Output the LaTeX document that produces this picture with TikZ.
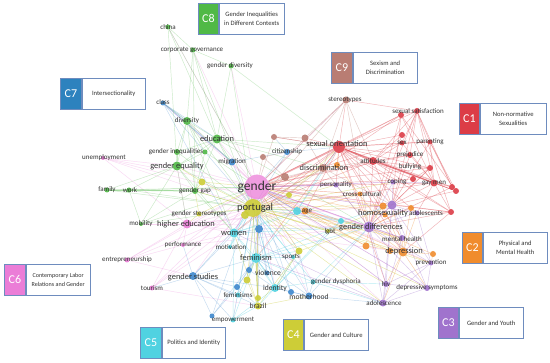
\documentclass[tikz,border=0pt]{standalone}
\usepackage{fontspec}
\setmainfont{Carlito}
\usetikzlibrary{backgrounds}
\definecolor{cRed}{RGB}{220,60,70}
\definecolor{cOrg}{RGB}{240,140,45}
\definecolor{cPur}{RGB}{160,115,205}
\definecolor{cYel}{RGB}{205,205,55}
\definecolor{cCyn}{RGB}{80,210,225}
\definecolor{cPnk}{RGB}{235,125,215}
\definecolor{cBlu}{RGB}{60,135,205}
\definecolor{cBluT}{RGB}{45,130,190}
\definecolor{cGrn}{RGB}{80,185,70}
\definecolor{cBrn}{RGB}{185,125,115}
\definecolor{legb}{RGB}{110,140,190}
\definecolor{labc}{RGB}{50,50,50}
\tikzset{
  dot/.style={circle,inner sep=0pt,draw=none,fill opacity=0.9},
  lab/.style={inner sep=0pt,text=labc,font=\fontsize{7}{7}\selectfont},
  labm/.style={lab,font=\fontsize{8.4}{9}\selectfont},
  ed/.style={line width=0.45pt,draw opacity=0.3},
  tagbox/.style={draw=legb,line width=0.8pt,anchor=north west,inner sep=0pt,minimum height=31pt,text=white,font=\fontsize{12}{12}\selectfont},
  ltx/.style={draw=legb,fill=white,line width=0.8pt,anchor=north west,inner sep=0pt,minimum height=31pt,align=center,font=\fontsize{6.6}{8.5}\selectfont,text=black!80}
}
\newcommand\kw[5]{\node[dot,fill=#5,minimum size=#4*2pt] (#1) at (#2,#3) {};}
\newcommand\legbox[7]{%
  \node[tagbox,fill=#5,minimum width=#3pt] (#1t) at (#2) {#6};
  \node[ltx,minimum width=#4pt] (#1x) at (#1t.north east) {#7};}
\begin{document}
\begin{tikzpicture}[x=1pt,y=-1pt]
\useasboundingbox (0,0) rectangle (550,363);
% ---------- keyword dots ----------
% green C8
\kw{china}{168}{27}{2.5}{cGrn}
\kw{corpgov}{193}{50}{2.5}{cGrn}
\kw{gdiv}{231}{66}{2.5}{cGrn}
\kw{divers}{187}{121}{4}{cGrn}
\kw{educ}{217}{139}{4.5}{cGrn}
\kw{gineq}{177}{152}{3}{cGrn}
\kw{gineqb}{205}{152}{2.5}{cGrn}
\kw{gequal}{177}{166}{4.5}{cGrn}
\kw{family}{107}{190}{2.5}{cGrn}
\kw{work}{129}{190}{2.5}{cGrn}
\kw{ggap}{195}{191}{3}{cGrn}
\kw{mobil}{141}{224}{2}{cGrn}
% blue C7
\kw{class}{163}{103}{2.5}{cBlu}
\kw{migr}{232}{162}{3.5}{cBlu}
\kw{citiz}{287}{152}{3}{cBlu}
\kw{bA}{259}{229}{4}{cBlu}
\kw{gstud}{193}{276}{4}{cBlu}
\kw{bB}{249}{270}{3}{cBlu}
\kw{bC}{237}{287}{3}{cBlu}
\kw{empB}{212}{316}{2.5}{cBlu}
\kw{bD}{291}{292}{3}{cBlu}
\kw{mother}{309}{296}{3.5}{cBlu}
\kw{viol}{267}{273}{2.5}{cBlu}
% cyan C5
\kw{women}{234}{233}{4.5}{cCyn}
\kw{motiv}{230}{247}{2}{cCyn}
\kw{femin}{256}{258}{5}{cCyn}
\kw{ident}{275}{288}{4}{cCyn}
\kw{feminis}{238}{295}{2.5}{cCyn}
\kw{empow}{233}{320}{2.5}{cCyn}
\kw{cA}{297}{211}{4}{cCyn}
\kw{cB}{341}{221}{3}{cCyn}
\kw{gdys}{313}{282}{2.5}{cCyn}
\kw{cS}{293}{257}{2}{cCyn}
% yellow C4
\kw{yB}{245}{215}{4}{cYel}
\kw{yA}{202}{182}{3.5}{cYel}
\kw{gster}{199}{214}{2.5}{cYel}
\kw{yC}{289}{195}{3}{cYel}
\kw{sports}{299}{251}{3.5}{cYel}
\kw{lgbt}{328}{231}{2}{cYel}
\kw{yD}{247}{280}{3.5}{cYel}
\kw{brazA}{258}{298}{3}{cYel}
\kw{brazil}{258}{306}{3.5}{cYel}
\kw{portugal}{253}{208}{9}{cYel}
% pink C6
\kw{unemp}{103}{158}{2}{cPnk}
\kw{highed}{187}{224}{4.5}{cPnk}
\kw{perf}{183}{245}{2}{cPnk}
\kw{entre}{127}{260}{2.5}{cPnk}
\kw{tour}{152}{288}{2.5}{cPnk}
% brown C9
\kw{stereo}{346}{100}{3.5}{cBrn}
\kw{brA}{274}{137}{3}{cBrn}
\kw{brB}{305}{138}{3.5}{cBrn}
\kw{brC}{263}{157}{3}{cBrn}
\kw{brD}{285}{177}{4}{cBrn}
\kw{discr}{323}{168}{4}{cBrn}
% red C1
\kw{sexor}{339}{147}{6}{cRed}
\kw{sexsat}{417}{111}{3}{cRed}
\kw{sexsatB}{401}{115}{3}{cRed}
\kw{sex}{402}{143}{2.5}{cRed}
\kw{sexB}{402}{135}{3}{cRed}
\kw{parent}{430}{142}{2.5}{cRed}
\kw{prej}{410}{155}{3}{cRed}
\kw{attit}{373}{161}{4}{cRed}
\kw{bully}{430}{168}{3}{cRed}
\kw{rA}{413}{179}{3}{cRed}
\kw{gaymen}{434}{183}{3.5}{cRed}
\kw{rB}{452}{187}{3}{cRed}
\kw{rC}{456}{191}{3}{cRed}
\kw{rD}{451}{212}{3}{cRed}
% orange C2
\kw{oDisc}{337}{165}{3}{cOrg}
\kw{age}{305}{211}{3.5}{cOrg}
\kw{cross}{360}{194}{2.5}{cOrg}
\kw{oHa}{383}{206}{3.5}{cOrg}
\kw{oHb}{385}{215}{2.5}{cOrg}
\kw{oAd}{411}{208}{3}{cOrg}
\kw{oA}{366}{246}{3.5}{cOrg}
\kw{oC}{390}{251}{3}{cOrg}
\kw{depr}{403}{252}{4.5}{cOrg}
\kw{oB}{433}{254}{3}{cOrg}
% purple C3
\kw{person}{336}{185}{2.5}{cPur}
\kw{coping}{393}{182}{2.5}{cPur}
\kw{homos}{392}{205}{4.5}{cPur}
\kw{adolts}{417}{213}{2.5}{cPur}
\kw{gdiff}{369}{227}{5.5}{cPur}
\kw{menth}{402}{238}{3}{cPur}
\kw{prev}{431}{263}{2.5}{cPur}
\kw{hiv}{386}{284}{3}{cPur}
\kw{depsym}{427}{288}{3}{cPur}
\kw{adolce}{383}{303}{3.5}{cPur}
% gender hub
\node[dot,fill=cPnk,fill opacity=0.75,minimum size=25pt] (gender) at (257,187) {};
% ---------- connectors ----------
\begin{scope}[on background layer]
\fill[white] (0,0) rectangle (550,363);
\draw[ed,cPnk,line width=2.2pt,draw opacity=0.45] (gender) -- (portugal);
\draw[ed,cRed,line width=1.6pt,draw opacity=0.4] (gender) -- (sexor);
\draw[ed,cRed,line width=1.4pt,draw opacity=0.4] (sexor) -- (attit);
\draw[ed,cRed,line width=1.2pt,draw opacity=0.35] (attit) -- (gaymen);
\draw[ed,cRed,line width=1pt,draw opacity=0.35] (sexor) -- (gaymen);
\draw[ed,cPnk,line width=1pt,draw opacity=0.4] (gender) -- (women);
\draw[ed,cPnk,line width=1pt,draw opacity=0.4] (gender) -- (gdiff);
\draw[ed,cYel,line width=1pt,draw opacity=0.4] (portugal) -- (age);
\draw[ed,cGrn,line width=1pt,draw opacity=0.4] (family) -- (ggap);
\draw[ed,cBlu,line width=1pt,draw opacity=0.4] (class) -- (migr);
\foreach \a/\b in {sexor/sexsat,sexor/sexsatB,sexor/sex,sexor/sexB,sexor/parent,sexor/prej,sexor/bully,sexor/rA,sexor/rB,sexor/rC,sexor/rD,sexor/adolts,sexor/homos,sexor/discr,sexor/stereo,sexor/portugal,sexor/gdiff,sexor/coping,sexor/brB,sexor/brA,sexor/age,sexor/person,sexor/menth,sexor/depr,sexor/hiv,sexor/women,sexor/femin,
attit/sexsat,attit/sex,attit/prej,attit/bully,attit/rB,attit/rC,attit/homos,attit/gender,attit/gdiff,attit/rD,attit/sexB,attit/portugal,
sexsat/stereo,sexsat/sex,sexsat/parent,sexsat/gaymen,sexsat/rB,sexsat/rD,sexsat/prej,sexsat/gdiff,sexsat/homos,sexsat/sexsatB,
sexsatB/gender,sexsatB/homos,sexsatB/discr,sexsatB/gdiff,sexsatB/rC,sexsatB/gaymen,
gaymen/gender,gaymen/prej,gaymen/rB,gaymen/rC,gaymen/homos,gaymen/adolts,gaymen/rD,gaymen/parent,gaymen/sex,gaymen/portugal,
parent/rC,parent/rB,parent/homos,parent/sex,bully/homos,bully/gdiff,bully/rA,bully/gender,
rD/homos,rD/gdiff,rD/adolts,rD/depr,rD/gender,prej/homos,prej/gender,sex/gender,sexB/gdiff,rA/gender,rB/gdiff,rC/homos}
  \draw[ed,cRed,draw opacity=0.4] (\a) -- (\b);
\foreach \a/\b in {gender/unemp,gender/highed,gender/perf,gender/entre,gender/tour,gender/femin,gender/gstud,gender/discr,gender/homos,gender/depr,gender/adolts,gender/menth,gender/hiv,gender/adolce,gender/prev,gender/depsym,gender/coping,gender/person,gender/age,gender/sports,gender/ident,gender/mother,gender/brazil,gender/gequal,gender/educ,gender/divers,gender/ggap,gender/migr,gender/class,gender/china,gender/gdiv,gender/corpgov,gender/stereo,gender/cross,gender/gdys,gender/lgbt,gender/empow,
highed/unemp,highed/entre,highed/tour,highed/perf,highed/portugal,highed/gdiff,highed/women,highed/age,highed/mobil,highed/homos,highed/gequal,highed/depr,
perf/entre,perf/portugal,perf/gdiff,perf/women,tour/portugal,tour/brazil,tour/women,entre/portugal,entre/gstud,unemp/portugal,unemp/gdiff,unemp/gequal}
  \draw[ed,cPnk] (\a) -- (\b);
\foreach \a/\b in {china/corpgov,china/educ,china/gequal,china/gender,corpgov/divers,corpgov/educ,corpgov/gdiv,corpgov/portugal,corpgov/ggap,gdiv/educ,gdiv/sexor,gdiv/portugal,
divers/educ,divers/gineq,divers/gequal,divers/migr,divers/portugal,divers/class,divers/ggap,divers/women,divers/gineqb,
educ/gineq,educ/gequal,educ/migr,educ/portugal,educ/ggap,educ/sexor,educ/citiz,educ/gdiff,educ/gineqb,educ/discr,
gequal/family,gequal/work,gequal/ggap,gequal/gineq,gequal/portugal,gequal/mobil,gequal/women,gequal/gineqb,gequal/highed,
family/work,family/gender,family/portugal,work/ggap,work/gender,work/mobil,work/portugal,
ggap/portugal,ggap/gineqb,ggap/mobil,ggap/women,mobil/gender,mobil/portugal,gineqb/gender,gineq/portugal}
  \draw[ed,cGrn] (\a) -- (\b);
\foreach \a/\b in {class/educ,class/portugal,class/women,class/divers,migr/portugal,migr/citiz,citiz/gender,citiz/sexor,citiz/brA,citiz/portugal,
gstud/women,gstud/femin,gstud/portugal,gstud/empB,gstud/bC,gstud/feminis,gstud/ident,gstud/brazil,gstud/perf,gstud/tour,gstud/empow,
bA/gender,bA/women,bA/femin,bA/bB,bA/ident,bA/brazil,bA/portugal,bA/gdiff,
bB/femin,bB/bC,bB/ident,bB/gender,bC/femin,bC/empB,bC/brazil,empB/femin,empB/gender,bD/ident,bD/mother,bD/gender,bD/portugal,
mother/portugal,mother/femin,mother/ident,mother/gdys,mother/gdiff,mother/sports,mother/adolce,viol/femin,viol/gender,viol/portugal}
  \draw[ed,cBlu] (\a) -- (\b);
\foreach \a/\b in {women/portugal,women/femin,women/motiv,women/ident,women/empow,women/gdiff,women/age,
femin/portugal,femin/ident,femin/viol,femin/empow,femin/feminis,femin/gdys,femin/sports,femin/lgbt,femin/gdiff,femin/brazil,
ident/portugal,ident/gdys,ident/lgbt,ident/brazil,ident/empow,ident/sports,
cA/gender,cA/portugal,cA/gdiff,cA/age,cA/sexor,cA/discr,cA/women,cA/femin,
cB/gdiff,cB/gender,cB/portugal,cB/lgbt,cB/ident,cB/homos,gdys/gdiff,gdys/hiv,gdys/portugal,gdys/adolce,empow/portugal,empow/brazil,motiv/gender,motiv/portugal,feminis/portugal,cS/portugal,cS/femin}
  \draw[ed,cCyn,draw opacity=0.4] (\a) -- (\b);
\foreach \a/\b in {portugal/brazil,portugal/sports,portugal/gdiff,portugal/homos,portugal/discr,portugal/depr,portugal/gster,portugal/ggap,portugal/yA,portugal/yC,portugal/lgbt,portugal/adolce,portugal/cross,portugal/person,portugal/hiv,portugal/menth,portugal/depsym,portugal/coping,portugal/prev,
brazil/gender,brazil/femin,brazil/sports,brazil/mother,brazil/women,brazil/yD,brazA/femin,brazA/gender,sports/gender,sports/gdiff,sports/ident,yA/gender,yA/ggap,yA/gequal,gster/gender,gster/highed,gster/ggap,yC/gender,yC/sexor,yD/gender,yD/femin,lgbt/gdiff,lgbt/homos,yB/gender}
  \draw[ed,cYel,draw opacity=0.45] (\a) -- (\b);
\foreach \a/\b in {stereo/attit,stereo/brB,stereo/discr,stereo/gender,stereo/gdiff,stereo/portugal,
brA/gender,brA/sexor,brA/brB,brB/gender,brB/discr,brC/gender,brC/brD,brC/citiz,brD/gender,brD/discr,brD/portugal,
discr/portugal,discr/homos,discr/gdiff,discr/attit,discr/women}
  \draw[ed,cBrn,draw opacity=0.4] (\a) -- (\b);
\foreach \a/\b in {age/depr,age/gdiff,age/homos,age/oA,age/menth,age/cross,oDisc/sexor,oDisc/gender,oDisc/depr,depr/gdiff,depr/menth,depr/homos,depr/oA,depr/oB,depr/prev,depr/adolce,depr/hiv,depr/depsym,depr/oHa,depr/oAd,depr/adolts,
cross/gdiff,cross/gender,oHa/homos,oHa/gdiff,oHa/gender,oHb/gender,oAd/adolts,oAd/gdiff,oB/gdiff,oB/prev,oA/gdiff,oA/gender,oC/gender}
  \draw[ed,cOrg,draw opacity=0.4] (\a) -- (\b);
\foreach \a/\b in {gdiff/homos,gdiff/adolce,gdiff/hiv,gdiff/depsym,gdiff/prev,gdiff/menth,gdiff/person,gdiff/coping,gdiff/adolts,
homos/adolts,homos/coping,homos/adolce,homos/hiv,homos/depsym,homos/menth,homos/prev,
adolce/hiv,adolce/depsym,adolce/prev,adolce/menth,adolce/women,adolce/femin,hiv/depsym,hiv/prev,hiv/gender,depsym/prev,depsym/gender,prev/adolts,person/gender,coping/gender,coping/gaymen,menth/gender,adolts/gender}
  \draw[ed,cPur,draw opacity=0.4] (\a) -- (\b);
\end{scope}
% ---------- labels ----------
\node[lab] (Lchina) at (168,27) {china};
\node[lab] (Lcorpgov) at (192,50) {corporate governance};
\node[lab] (Lgdiv) at (230,66) {gender diversity};
\node[lab] (Lclass) at (163,102) {class};
\node[lab] (Ldivers) at (187,121) {diversity};
\node[labm] (Leduc) at (217,139) {education};
\node[lab] (Lgineq) at (176,152) {gender inequalities};
\node[lab] (Lunemp) at (104,158) {unemployment};
\node[lab] (Lmigr) at (232,162) {migration};
\node[lab] (Lcitiz) at (287,152) {citizenship};
\node[labm] (Lgequal) at (177,166) {gender equality};
\node[lab] (Lfamily) at (107,190) {family};
\node[lab] (Lwork) at (130,190) {work};
\node[lab] (Lggap) at (195,191) {gender gap};
\node[lab] (Lgster) at (199,214) {gender stereotypes};
\node[lab] (Lmobil) at (141,224) {mobility};
\node[labm] (Lhighed) at (186,224) {higher education};
\node[labm] (Lwomen) at (234,233) {women};
\node[lab] (Lperf) at (183,245) {performance};
\node[lab] (Lmotiv) at (231,247) {motivation};
\node[lab] (Lentre) at (127,260) {entrepreneurship};
\node[labm] (Lfemin) at (256,258) {feminism};
\node[lab,font=\fontsize{7.6}{8}\selectfont] (Lviol) at (268,273) {violence};
\node[labm] (Lgstud) at (193,277) {gender studies};
\node[lab] (Ltour) at (152,288) {tourism};
\node[lab,font=\fontsize{7.6}{8}\selectfont] (Lident) at (275,288) {identity};
\node[lab] (Lfeminis) at (238,295) {feminisms};
\node[lab,font=\fontsize{7.6}{8}\selectfont] (Lbrazil) at (258,306) {brazil};
\node[lab] (Lempow) at (233,320) {empowerment};
\node[lab] (Lsports) at (291,257) {sports};
\node[lab] (Llgbt) at (330,232) {lgbt};
\node[lab] (Lgdys) at (336,282) {gender dysphoria};
\node[lab,font=\fontsize{7.6}{8}\selectfont] (Lmother) at (309,297) {motherhood};
\node[lab] (Lhiv) at (386,284) {hiv};
\node[lab] (Ldepsym) at (427,288) {depressive symptoms};
\node[lab] (Ladolce) at (384,303) {adolescence};
\node[lab] (Lprev) at (431,263) {prevention};
\node[lab] (Lmenth) at (402,239) {mental health};
\node[labm] (Ldepr) at (404,251) {depression};
\node[labm] (Lgdiff) at (371,227) {gender differences};
\node[labm] (Lhomos) at (383,213) {homosexuality};
\node[lab] (Ladolts) at (426,213) {adolescents};
\node[lab] (Lcross) at (362,194) {cross-cultural};
\node[lab] (Lperson) at (336,185) {personality};
\node[lab] (Lage) at (307,211) {age};
\node[lab] (Lcoping) at (397,182) {coping};
\node[lab] (Lgaymen) at (434,183) {gay men};
\node[lab] (Lbully) at (410,167) {bullying};
\node[labm] (Ldiscr) at (324,168) {discrimination};
\node[lab] (Lattit) at (373,161) {attitudes};
\node[lab] (Lprej) at (410,155) {prejudice};
\node[labm] (Lsexor) at (337,144) {sexual orientation};
\node[lab] (Lsex) at (402,143) {sex};
\node[lab] (Lparent) at (430,142) {parenting};
\node[lab] (Lsexsat) at (418,111) {sexual satisfaction};
\node[lab] (Lstereo) at (345,100) {stereotypes};
\node[lab,font=\fontsize{13.5}{14}\selectfont] (Lgender) at (257,187) {gender};
\node[lab,font=\fontsize{10.5}{11}\selectfont] (Lportugal) at (255,208) {portugal};
% ---------- legend ----------
\legbox{Ceight}{198,3}{20}{65}{cGrn}{C8}{Gender Inequalities\\in Different Contexts}
\legbox{Cnine}{331,52}{21}{64}{cBrn}{C9}{Sexism and\\Discrimination}
\legbox{Cseven}{60,78}{21}{63}{cBluT}{C7}{Intersectionality}
\legbox{Cone}{459,103}{20}{66}{cRed}{C1}{Non-normative\\Sexualities}
\legbox{Ctwo}{462,232}{20}{64}{cOrg}{C2}{Physical and\\Mental Health}
\legbox{Cthree}{438,307}{20}{64}{cPur}{C3}{Gender and Youth}
\legbox{Cfour}{283,319}{20}{64}{cYel}{C4}{Gender and Culture}
\legbox{Cfive}{140,327}{21}{63}{cCyn}{C5}{Politics and Identity}
\legbox{Csix}{4,264}{21}{64}{cPnk}{C6}{\fontsize{6.1}{8}\selectfont Contemporary Labor\\\fontsize{6.1}{8}\selectfont Relations and Gender}
\end{tikzpicture}
\end{document}
